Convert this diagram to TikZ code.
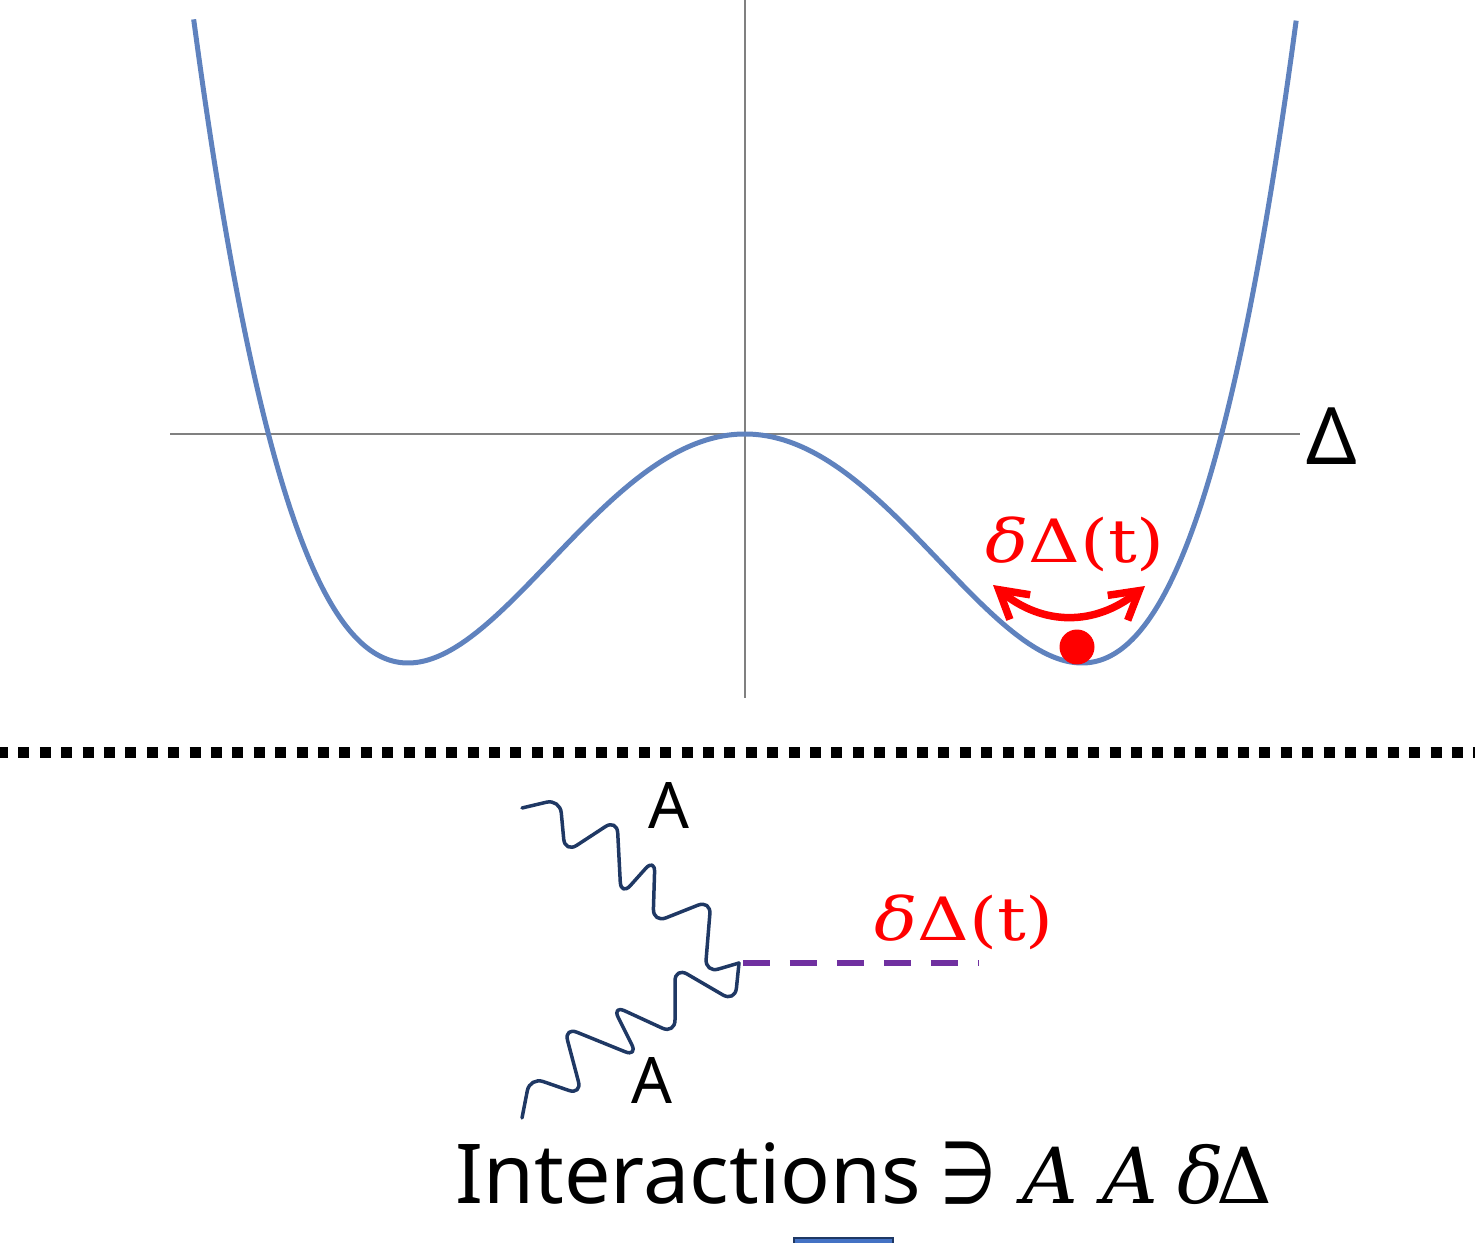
\documentclass[tikz,border=0pt]{standalone}
\usepackage{fontspec}
\usetikzlibrary{arrows.meta}
\newfontfamily\notosans{Noto Sans}
\newfontfamily\djserif{DejaVu Serif}
\newfontfamily\djsans{DejaVu Sans}
\definecolor{curveblue}{RGB}{95,130,190}
\definecolor{axisgray}{RGB}{128,128,128}
\definecolor{photon}{RGB}{31,56,100}
\definecolor{scalar}{RGB}{112,48,160}
\definecolor{boxfill}{RGB}{68,114,196}
\definecolor{boxedge}{RGB}{31,56,100}
\newcommand{\ddt}{\scalebox{1.2}[1]{{\itshape δ}Δ(t)}}
\newcommand{\cbox}[1]{\makebox[0pt][c]{#1}}
\tikzset{
  axisline/.style={draw=axisgray, line width=0.03cm},
  potential/.style={draw=curveblue, line width=0.1cm, line join=round},
  photonline/.style={draw=photon, line width=0.07cm, line cap=round, line join=round, rounded corners=0.28cm},
  scalarline/.style={draw=scalar, line width=0.12cm, dash pattern=on 0.54cm off 0.4cm},
  redlabel/.style={text=red, inner sep=0pt, font=\djserif\fontsize{34}{40}\selectfont},
  alabel/.style={inner sep=0pt, font=\notosans\fontsize{36.5}{42}\selectfont},
  osc/.style={draw=red, line width=0.15cm, line join=round, line cap=round,
    {Straight Barb[length=0.55cm, width=0.64cm]}-{Straight Barb[length=0.55cm, width=0.64cm]}},
}
\begin{document}
\begin{tikzpicture}[x=0.02cm, y=-0.02cm]
\useasboundingbox (0,0) rectangle (1475,1243);
% axes
\coordinate (vtop) at (745,0);
\coordinate (vbot) at (745,698);
\coordinate (hleft) at (170,434);
\coordinate (hright) at (1300,434);
\draw[axisline] (vtop) -- (vbot);
\draw[axisline] (hleft) -- (hright);
\node[inner sep=0pt, anchor=base, font=\notosans\fontsize{45}{50}\selectfont] (dlab) at (1332,465) {Δ};
% double well potential
\draw[potential, domain=-1.636:1.636, samples=220, smooth]
  plot ({745+337*\x}, {434-229*(\x*\x*\x*\x-2*\x*\x)});
% oscillation arrow and ball
\coordinate (aL) at (993,585);
\coordinate (aR) at (1145,586);
\draw[osc] (aL) .. controls (1043,626) and (1095,626) .. (aR);
\fill[red] (1077,647) circle[radius=0.35cm];
\node[redlabel, anchor=base] (d1) at (1075,562) {\ddt};
% dotted separator
\coordinate (sepL) at (0,752);
\coordinate (sepR) at (1475,752);
\draw[line width=0.22cm, dash pattern=on 0.22cm off 0.208cm, dash phase=0.06cm] (sepL) -- (sepR);
% vertex
\coordinate (v) at (739,963);
\coordinate (pu) at (522,808);
\coordinate (pl) at (522,1118);
\coordinate (dend) at (978,963);
\draw[photonline] (pu) -- (560,799) -- (565,853) -- (617,819) -- (621,896) -- (655,858)
  -- (653,923) -- (711,900) -- (705,973) -- (v);
\draw[photonline] (pl) -- (530,1077) -- (582,1095) -- (564,1027) -- (638,1057) -- (612,1005)
  -- (675,1034) -- (675,967) -- (735,1002) -- (v);
\draw[scalarline] (v) ++(4,0) -- (dend);
\node[alabel, anchor=base] (A1) at (669,828) {A};
\node[alabel, anchor=base] (A2) at (652,1103) {A};
\node[redlabel, anchor=base] (d2) at (964,940) {\ddt};
% interactions text
\node[inner sep=0pt, anchor=base west, font=\fontsize{47}{56}\selectfont] (inter) at (455,1203)
  {\makebox[0pt][l]{\notosans Interactions}\hspace{291.9pt}\cbox{\djsans\scalebox{0.78}[1.05]{∋}}\hspace{47pt}\cbox{\djserif\fontsize{44}{50}\selectfont\itshape A}\hspace{45.4pt}\cbox{\djserif\fontsize{44}{50}\selectfont\itshape A}\hspace{40pt}\cbox{\djserif\fontsize{44}{50}\selectfont\itshape δ}\hspace{25pt}\cbox{\djserif\fontsize{44}{50}\selectfont Δ}};
% blue box at bottom edge
\draw[draw=boxedge, fill=boxfill, line width=0.05cm] (794,1238) rectangle (893,1260);
\end{tikzpicture}
\end{document}
